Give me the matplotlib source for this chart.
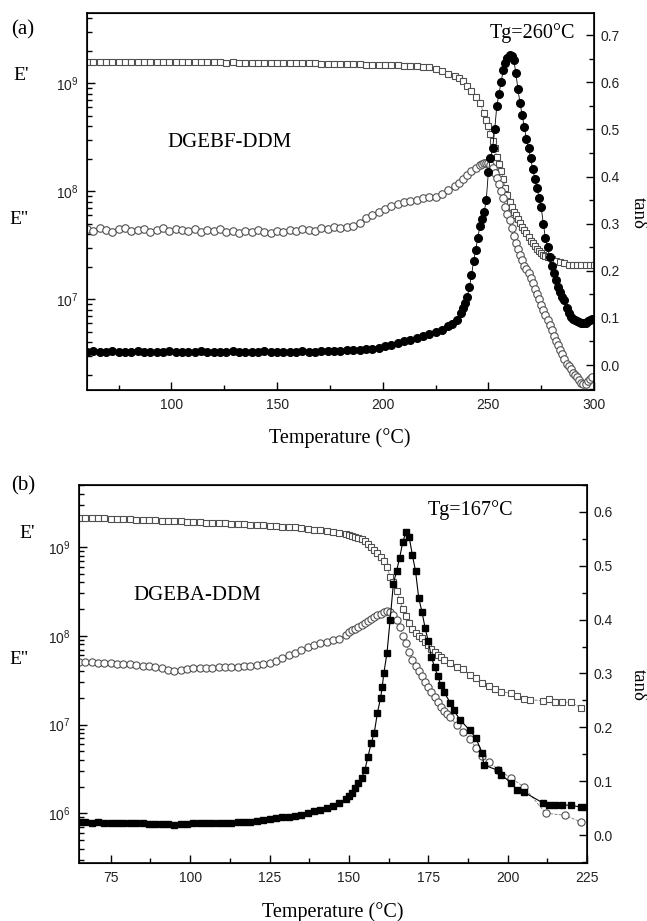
import numpy as np
import matplotlib
matplotlib.use("Agg")
import matplotlib.pyplot as plt
from matplotlib.ticker import LogLocator, MultipleLocator, NullFormatter

plt.rcParams['font.family'] = 'Liberation Sans'
serif = 'Liberation Serif'

# ---------------- (a) DGEBF-DDM ----------------
T_E1_a = [60, 63, 66, 69, 72, 75, 78, 81, 84, 87, 90, 93, 96, 99, 102, 105, 108, 111, 114, 117,
          120, 123, 126, 129, 132, 135, 138, 141, 144, 147, 150, 153, 156, 159, 162, 165, 168, 171,
          174, 177, 180, 183, 186, 189, 192, 195, 198, 201, 204, 207, 210, 213, 216, 219, 222, 225,
          228, 231, 234, 236, 238, 240, 242, 244, 246, 248, 249, 250, 251, 252, 253, 254, 255, 256,
          257, 258, 259, 260, 261, 262, 263, 264, 265, 266, 267, 268, 269, 270, 271, 272, 273, 274,
          275, 276, 277, 278, 280, 282, 284, 286, 288, 290, 292, 294, 296, 298, 300]
E1_a = [1.58, 1.57, 1.58, 1.57, 1.57, 1.58, 1.57, 1.57, 1.56, 1.57,
        1.57, 1.56, 1.57, 1.57, 1.56, 1.56, 1.57, 1.56, 1.56, 1.56,
        1.56, 1.56, 1.55, 1.56, 1.55, 1.55, 1.55, 1.55, 1.55, 1.54,
        1.54, 1.54, 1.54, 1.53, 1.53, 1.53, 1.53, 1.52, 1.52, 1.52,
        1.51, 1.51, 1.50, 1.50, 1.49, 1.49, 1.48,
        1.48, 1.47, 1.47, 1.46, 1.45, 1.44, 1.42, 1.40, 1.35, 1.29, 1.22, 1.16,
        1.12, 1.04, 0.95, 0.85, 0.75, 0.65, 0.53,
        0.46, 0.40, 0.34, 0.29, 0.25, 0.21, 0.18, 0.155, 0.13, 0.108, 0.092, 0.080, 0.071, 0.065,
        0.060, 0.055, 0.051, 0.047, 0.044, 0.041, 0.038, 0.035, 0.033, 0.031, 0.029, 0.028, 0.027,
        0.026, 0.025, 0.0245,
        0.0235, 0.0225, 0.022, 0.0215, 0.021, 0.021, 0.021, 0.021, 0.021, 0.021, 0.021]  # GPa

T_E2_a = [60, 63, 66, 69, 72, 75, 78, 81, 84, 87, 90, 93, 96, 99, 102, 105, 108, 111, 114, 117,
          120, 123, 126, 129, 132, 135, 138, 141, 144, 147, 150, 153, 156, 159, 162, 165, 168, 171,
          174, 177, 180, 183, 186, 189, 192, 195, 198, 201, 204, 207, 210, 213, 216, 219, 222, 225,
          228, 231, 234, 236, 238, 240, 242, 244, 246, 247, 248, 249, 250, 251, 252, 253, 254, 255,
          256, 257, 258, 259, 260, 261, 262, 263, 264, 265, 266, 267, 268, 269, 270, 271, 272, 273,
          274, 275, 276, 277, 278, 279, 280, 281, 282, 283, 284, 285, 286, 287, 288, 289, 290, 291,
          292, 293, 294, 295, 296, 297, 298, 299]
E2_a = [4.5, 4.3, 4.6, 4.4, 4.2, 4.5, 4.6, 4.3, 4.4, 4.5,
        4.2, 4.4, 4.6, 4.3, 4.5, 4.4, 4.3, 4.5, 4.2, 4.4,
        4.3, 4.5, 4.2, 4.3, 4.1, 4.3, 4.2, 4.4, 4.2, 4.1,
        4.3, 4.2, 4.4, 4.3, 4.5, 4.4, 4.3, 4.6, 4.5, 4.7,
        4.6, 4.7,
        4.8, 5.1, 5.7, 6.0, 6.5, 6.9, 7.3, 7.6, 7.9, 8.2, 8.4, 8.6, 8.8, 8.9, 9.4, 10.2, 11.2,
        12.0, 13.0, 14.2, 15.4, 16.4, 17.5,
        17.9, 18.2, 18.3, 18.2, 17.6, 16.5, 14.8, 13.2, 11.6, 10.0,
        8.6, 7.2, 6.2, 5.4, 4.6, 3.9, 3.3, 2.9, 2.55, 2.3,
        2.05, 1.9, 1.74, 1.58, 1.42, 1.25, 1.12, 1.0, 0.88, 0.80,
        0.72, 0.64, 0.58, 0.52, 0.46, 0.41, 0.375, 0.34, 0.31, 0.28,
        0.255, 0.24, 0.225, 0.21, 0.2, 0.19, 0.18, 0.17, 0.165, 0.165,
        0.175, 0.185, 0.19]  # x1e7 Pa

T_tan_a = [60, 63, 66, 69, 72, 75, 78, 81, 84, 87, 90, 93, 96, 99, 102, 105, 108, 111, 114, 117,
           120, 123, 126, 129, 132, 135, 138, 141, 144, 147, 150, 153, 156, 159, 162, 165, 168, 171,
           174, 177, 180, 183, 186, 189, 192, 195, 198, 201, 204, 207, 210, 213, 216, 219, 222, 225,
           228, 231, 233, 235, 237, 238, 239, 240, 241, 242, 243, 244, 245, 246, 247, 248, 249, 250,
           251, 252, 253, 254, 255, 256, 257, 258, 259, 260, 261, 262, 263, 264, 265, 266, 267, 268,
           269, 270, 271, 272, 273, 274, 275, 276, 277, 278, 279, 280, 281, 282, 283, 284, 285, 286,
           287, 288, 289, 290, 291, 292, 293, 294, 295, 296, 297, 298, 299, 300]
tan_a = [0.028, 0.029, 0.027, 0.028, 0.029, 0.028, 0.027, 0.028, 0.029, 0.028,
         0.027, 0.028, 0.028, 0.029, 0.027, 0.028, 0.028, 0.027, 0.029, 0.028,
         0.028, 0.027, 0.028, 0.029, 0.028, 0.027, 0.028, 0.028, 0.029, 0.027,
         0.028, 0.028, 0.027, 0.028, 0.029, 0.028, 0.028, 0.029, 0.029, 0.030,
         0.030, 0.031,
         0.031, 0.032, 0.034, 0.035, 0.037, 0.040, 0.043, 0.047, 0.050, 0.054, 0.058, 0.062,
         0.066, 0.070, 0.075, 0.082,
         0.087, 0.096,
         0.110, 0.12, 0.132, 0.145, 0.165, 0.19, 0.22, 0.245, 0.27, 0.295,
         0.31, 0.325, 0.35, 0.41, 0.44, 0.46, 0.50, 0.55, 0.575, 0.60,
         0.625, 0.64, 0.652, 0.658, 0.655, 0.648, 0.62, 0.585, 0.555, 0.53,
         0.505, 0.48, 0.46, 0.44, 0.415, 0.395, 0.375, 0.355, 0.335, 0.30,
         0.27, 0.25, 0.23, 0.21, 0.195, 0.18, 0.166, 0.155, 0.145, 0.137,
         0.122, 0.11, 0.102, 0.098, 0.096, 0.093, 0.091, 0.09, 0.089, 0.09,
         0.094, 0.096, 0.097, 0.097]

# ---------------- (b) DGEBA-DDM ----------------
T_E1_b = [65, 67, 69, 71, 73, 75, 77, 79, 81, 83, 85, 87, 89, 91, 93, 95, 97, 99, 101, 103,
          105, 107, 109, 111, 113, 115, 117, 119, 121, 123, 125, 127, 129, 131, 133, 135, 137, 139,
          141, 143, 145, 147, 149,
          150, 151, 152, 153, 154, 155, 156, 157, 158, 159, 160, 161, 162, 163, 164, 165, 166, 167,
          168, 169, 170, 171, 172, 173, 174, 175, 176, 177, 178, 179, 180,
          182, 184, 186, 188, 190, 192, 194, 196, 198,
          201, 203, 205, 207, 211, 213, 215, 217, 220, 223]
E1_b = [2.14, 2.13, 2.12, 2.11, 2.10, 2.09, 2.08, 2.06, 2.05, 2.04,
        2.03, 2.01, 2.00, 1.98, 1.97, 1.95, 1.94, 1.92, 1.91, 1.90,
        1.88, 1.87, 1.86, 1.85, 1.83, 1.82, 1.81, 1.79, 1.78, 1.76,
        1.74, 1.72, 1.70, 1.68, 1.66, 1.63, 1.60, 1.57, 1.54, 1.51,
        1.48, 1.45, 1.40,
        1.37, 1.34, 1.31, 1.28, 1.24, 1.17, 1.08, 1.0, 0.92, 0.85,
        0.78, 0.70, 0.60, 0.46, 0.40, 0.32, 0.25, 0.20, 0.165, 0.14,
        0.12, 0.108, 0.10, 0.094, 0.086, 0.078, 0.071, 0.065, 0.061, 0.057,
        0.054,
        0.049, 0.045, 0.042, 0.036, 0.033, 0.029, 0.027, 0.025, 0.0235,
        0.0225, 0.021, 0.0195, 0.019, 0.0186, 0.0195, 0.018, 0.0178, 0.0178, 0.0155]  # GPa

T_E2_b = [65, 67, 69, 71, 73, 75, 77, 79, 81, 83, 85, 87, 89, 91, 93, 95, 97, 99, 101, 103,
          105, 107, 109, 111, 113, 115, 117, 119, 121, 123, 125, 127, 129, 131, 133, 135, 137, 139,
          141, 143, 145, 147, 149,
          150, 151, 152, 153, 154, 155, 156, 157, 158, 159, 160, 161, 162, 163, 164, 165, 166, 167,
          168, 169, 170, 171, 172, 173, 174, 175, 176, 177, 178, 179, 180, 181, 182,
          184, 186, 188, 190, 192, 194, 197, 201, 205, 212, 218, 223]
E2_b = [5.1, 5.0, 5.0, 4.9, 4.9, 4.9, 4.8, 4.8, 4.75, 4.7,
        4.6, 4.55, 4.45, 4.3, 4.15, 4.05, 4.1, 4.2, 4.3, 4.3,
        4.35, 4.35, 4.4, 4.45, 4.5, 4.5, 4.55, 4.6, 4.65, 4.75,
        4.9, 5.2, 5.6, 6.0, 6.4, 6.9, 7.4, 7.8, 8.2, 8.5,
        8.9, 9.3, 10.3,
        10.9, 11.5, 12.0, 12.5, 13.2, 14.0, 14.8, 15.5, 16.3, 17.0,
        17.8, 18.5, 19.0, 18.5, 17.0, 15.0, 12.5, 10.0, 8.3, 6.6,
        5.4, 4.6, 4.0, 3.5, 3.0, 2.65, 2.35, 2.05, 1.8, 1.58,
        1.42, 1.3, 1.2,
        0.98, 0.82, 0.69, 0.55, 0.44, 0.38, 0.31, 0.25, 0.20, 0.10, 0.095, 0.08]  # x1e7 Pa

T_tan_b = [65, 67, 69, 71, 73, 75, 77, 79, 81, 83, 85, 87, 89, 91, 93, 95, 97, 99, 101, 103,
           105, 107, 109, 111, 113, 115, 117, 119, 121, 123, 125, 127, 129, 131, 133, 135,
           137, 139, 141, 143, 145, 147, 149,
           150, 151, 152, 153, 154, 155, 156, 157, 158, 159, 160, 160.5,
           161, 162, 163, 164, 165, 166, 167, 168, 169, 170, 171, 172, 173, 174, 175, 176, 177,
           178, 179, 180,
           182, 183, 185, 188, 190, 192, 192.5, 197, 198, 201, 203, 205, 211, 213, 215, 217, 220,
           223, 225]
tan_b = [0.024, 0.024, 0.023, 0.024, 0.023, 0.023, 0.023, 0.022, 0.022, 0.022,
         0.022, 0.021, 0.021, 0.020, 0.020, 0.019, 0.020, 0.021, 0.022, 0.022,
         0.022, 0.022, 0.023, 0.023, 0.023, 0.024, 0.024, 0.025, 0.026, 0.028,
         0.029, 0.031, 0.033, 0.034, 0.036, 0.038,
         0.041, 0.044, 0.047, 0.050, 0.054, 0.060, 0.067,
         0.072, 0.078, 0.087, 0.096, 0.106, 0.12, 0.145, 0.17, 0.19, 0.227, 0.255, 0.275,
         0.30, 0.338, 0.40, 0.466, 0.49, 0.515, 0.545, 0.562, 0.553, 0.52,
         0.49, 0.44, 0.415, 0.385, 0.36, 0.33, 0.312, 0.295, 0.278, 0.265,
         0.245, 0.232, 0.214, 0.195, 0.18, 0.152, 0.13, 0.12, 0.112, 0.097, 0.084, 0.08,
         0.06, 0.056, 0.056, 0.056, 0.055, 0.052, 0.052]

W, H = 647, 921
fig = plt.figure(figsize=(W / 100, H / 100), dpi=100)

open_col = '#505050'


def style_axes(ax, ax2, xmajor, xminor):
    for sp in ax.spines.values():
        sp.set_linewidth(1.2)
    ax.set_yscale('log')
    ax.yaxis.set_major_locator(LogLocator(base=10, numticks=10))
    ax.yaxis.set_minor_locator(LogLocator(base=10, subs=np.arange(2, 10), numticks=10))
    ax.yaxis.set_minor_formatter(NullFormatter())
    ax.xaxis.set_major_locator(MultipleLocator(xmajor))
    ax.xaxis.set_minor_locator(MultipleLocator(xminor))
    ax.tick_params(which='major', direction='in', length=6, width=1.0, labelsize=10,
                   labelcolor='#222222', pad=6, top=False, right=False)
    ax.tick_params(which='minor', direction='in', length=3.5, width=1.0, top=False, right=False)
    ax2.yaxis.set_major_locator(MultipleLocator(0.1))
    ax2.yaxis.set_minor_locator(MultipleLocator(0.05))
    ax2.tick_params(which='major', direction='in', length=6, width=1.0, labelsize=10,
                    labelcolor='#222222', pad=5)
    ax2.tick_params(which='minor', direction='in', length=3.5, width=1.0)
    ax2.yaxis.set_major_formatter(plt.FuncFormatter(lambda v, p: f"{v:.1f}"))


# panel (a)
ax1 = fig.add_axes([87 / W, 1 - 390 / H, (594 - 87) / W, (390 - 13) / H])
ax1b = ax1.twinx()
ax1.plot(T_E1_a, np.array(E1_a) * 1e9, ls='-', lw=0.5, color='#777777', marker='s', ms=4.8,
         mfc='white', mec=open_col, mew=0.8)
ax1.plot(T_E2_a, np.array(E2_a) * 1e7, ls='-', lw=0.5, color='#777777', marker='o', ms=5.4,
         mfc='white', mec=open_col, mew=0.8)
ax1b.plot(T_tan_a, tan_a, ls='-', lw=0.6, color='black', marker='o', ms=5.5,
          mfc='black', mec='black')
ax1.set_xlim(60, 300)
ax1.set_ylim(1.45e6, 4.47e9)
ax1b.set_ylim(-0.053, 0.747)
style_axes(ax1, ax1b, 50, 25)

# panel (b)
ax2 = fig.add_axes([79 / W, 1 - 863 / H, (587 - 79) / W, (863 - 485) / H])
ax2b = ax2.twinx()
ax2.plot(T_E1_b, np.array(E1_b) * 1e9, ls='--', lw=0.6, color='#777777', marker='s', ms=4.8,
         mfc='white', mec=open_col, mew=0.8)
ax2.plot(T_E2_b, np.array(E2_b) * 1e7, ls='--', lw=0.6, color='#777777', marker='o', ms=5.2,
         mfc='white', mec=open_col, mew=0.8)
ax2b.plot(T_tan_b, tan_b, ls='-', lw=0.8, color='black', marker='s', ms=4.6,
          mfc='black', mec='black')
ax2.set_xlim(65, 225)
ax2.set_ylim(2.75e5, 5.0e9)
ax2b.set_ylim(-0.052, 0.65)
style_axes(ax2, ax2b, 25, 12.5)


def ftext(x, y, s, size, **kw):
    fig.text(x / W, 1 - y / H, s, fontsize=size, family=serif, ha='center', va='center', **kw)


# labels
ftext(23, 30, '(a)', 15)
ftext(21, 75, "E'", 14)
ftext(19, 220, "E''", 14)
ftext(229, 142, 'DGEBF-DDM', 15)
ftext(532, 33, 'Tg=260°C', 14.5)
ftext(340, 438, 'Temperature (°C)', 14.5)
ftext(638, 213, 'tanδ', 13.5, rotation=270)

ftext(23, 486, '(b)', 15)
ftext(27, 533, "E'", 14)
ftext(19, 659, "E''", 14)
ftext(197, 595, 'DGEBA-DDM', 15)
ftext(470, 510, 'Tg=167°C', 14.5)
ftext(333, 912, 'Temperature (°C)', 14.5)
ftext(638, 685, 'tanδ', 13.5, rotation=270)

fig.savefig('out.png', dpi=100)
